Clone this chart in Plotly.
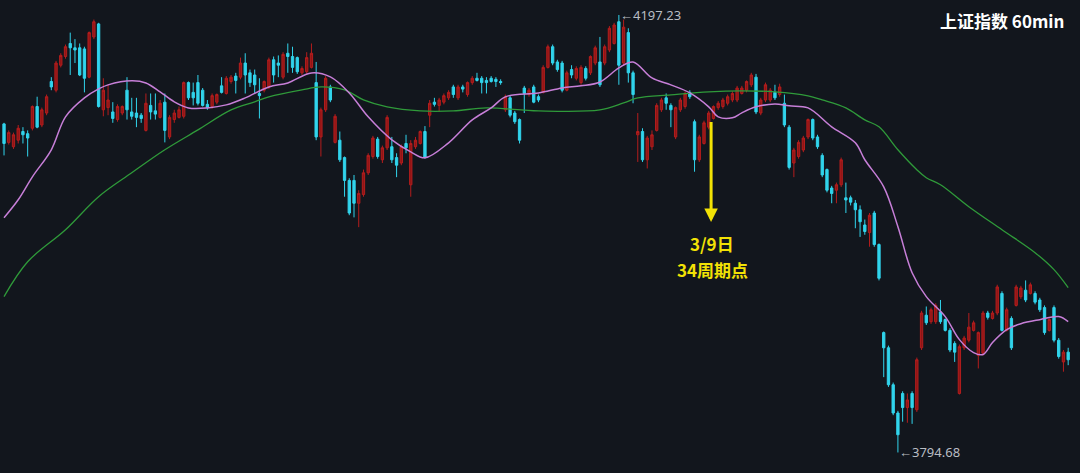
import plotly.graph_objects as go

open_ = [4097,4080,4076,4082,4090,4088,4093,4113,4096,4107,
         4136,4128,4151,4159,4171,4167,4167,4166,4140,4177,
         4189,4110,4112,4108,4101,4107,4128,4108,4107,4105,
         4091,4114,4109,4103,4117,4085,4101,4103,4104,4135,
         4126,4135,4128,4115,4113,4117,4132,4125,4136,4141,
         4140,4153,4144,4142,4125,4128,4131,4156,4153,4140,
         4162,4159,4158,4144,4145,4149,4135,4085,4110,4131,
         4080,4082,4066,4045,4045,4024,4032,4052,4067,4083,
         4064,4075,4076,4066,4061,4079,4041,4076,4079,4090,
         4105,4117,4114,4117,4121,4131,4121,4131,4124,4135,
         4139,4139,4137,4139,4138,4136,4110,4121,4107,4101,
         4130,4124,4131,4122,4126,4149,4168,4154,4153,4128,
         4147,4139,4135,4148,4144,4153,4154,4153,4165,4171,
         4191,4153,4181,4144,4087,4090,4064,4076,4091,4110,
         4121,4114,4085,4110,4113,4126,4099,4064,4079,4094,
         4102,4112,4113,4116,4119,4119,4125,4128,4133,4140,
         4107,4119,4119,4126,4124,4116,4094,4061,4067,4073,
         4085,4101,4085,4068,4055,4038,4036,4041,4029,4029,
         4024,4018,4004,3997,4015,3986,3905,3891,3857,3831,
         3849,3836,3849,3834,3891,3921,3915,3915,3924,3917,
         3907,3895,3849,3891,3898,3907,3884,3886,3923,3918,
         3923,3941,3907,3918,3930,3938,3944,3941,3941,3935,
         3928,3907,3928,3898,3878,3887]

high = [4098,4091,4089,4096,4094,4091,4114,4122,4112,4124,
        4140,4155,4162,4170,4181,4175,4171,4168,4182,4193,
        4190,4139,4133,4117,4115,4114,4140,4121,4121,4107,
        4125,4125,4125,4119,4125,4105,4110,4113,4136,4136,
        4135,4142,4130,4119,4125,4125,4140,4141,4142,4144,
        4158,4162,4147,4147,4139,4137,4158,4159,4160,4163,
        4171,4168,4159,4150,4163,4171,4154,4112,4141,4133,
        4106,4090,4067,4047,4050,4036,4055,4070,4086,4085,
        4077,4105,4085,4070,4078,4087,4082,4085,4091,4095,
        4119,4121,4121,4125,4128,4133,4133,4133,4136,4141,
        4144,4141,4140,4141,4140,4138,4124,4123,4109,4102,
        4132,4130,4133,4124,4151,4170,4170,4156,4155,4146,
        4151,4150,4151,4150,4160,4169,4177,4170,4187,4190,
        4197.23,4193,4185,4146,4107,4093,4086,4091,4116,4121,
        4125,4116,4113,4121,4127,4128,4101,4087,4100,4109,
        4114,4118,4121,4124,4127,4132,4132,4137,4144,4143,
        4121,4135,4130,4133,4134,4124,4096,4075,4082,4086,
        4102,4102,4087,4070,4056,4040,4043,4066,4043,4031,
        4027,4022,4009,4015,4017,3987,3906,3893,3859,3833,
        3851,3849,3851,3882,3925,3929,3928,3932,3935,3918,
        3909,3897,3894,3902,3923,3916,3906,3925,3925,3925,
        3949,3943,3928,3920,3949,3948,3953,3951,3943,3937,
        3930,3918,3930,3900,3889,3891]

low = [4068,4078,4074,4079,4079,4067,4091,4093,4094,4105,
       4128,4126,4149,4157,4142,4153,4141,4126,4139,4175,
       4112,4104,4105,4098,4099,4105,4101,4101,4094,4098,
       4090,4101,4101,4102,4080,4083,4098,4102,4102,4119,
       4114,4114,4113,4110,4111,4115,4125,4124,4134,4125,
       4138,4125,4131,4125,4102,4126,4129,4135,4140,4138,
       4144,4144,4143,4142,4143,4148,4082,4067,4108,4117,
       4079,4062,4030,4013,4011,4002,4030,4050,4065,4065,
       4061,4073,4061,4048,4059,4070,4030,4074,4078,4065,
       4094,4113,4108,4115,4119,4121,4119,4126,4122,4133,
       4136,4125,4125,4135,4131,4133,4108,4103,4097,4079,
       4107,4122,4116,4117,4125,4148,4151,4145,4126,4127,
       4139,4137,4133,4137,4142,4151,4131,4151,4163,4170,
       4133,4151,4135,4116,4062,4062,4056,4073,4090,4108,
       4110,4094,4083,4108,4111,4120,4053,4062,4078,4092,
       4101,4110,4111,4114,4117,4117,4124,4126,4131,4106,
       4105,4117,4117,4119,4122,4094,4055,4048,4065,4071,
       4083,4082,4074,4048,4034,4024,4024,4039,4015,4022,
       4001,3993,3995,3984,3984,3953,3864,3855,3829,3794.68,
       3823,3822,3821,3832,3889,3912,3913,3913,3913,3906,
       3887,3878,3848,3889,3896,3906,3872,3884,3917,3917,
       3921,3906,3906,3889,3929,3936,3933,3940,3931,3924,
       3903,3906,3896,3881,3869,3875]

close = [4079,4089,4087,4093,4087,4084,4113,4094,4110,4122,
         4131,4153,4160,4168,4167,4165,4142,4139,4181,4191,
         4113,4128,4119,4102,4113,4113,4110,4104,4103,4102,
         4116,4108,4106,4116,4091,4103,4107,4110,4135,4121,
         4121,4116,4114,4112,4123,4124,4126,4139,4140,4137,
         4153,4142,4135,4133,4123,4136,4156,4142,4151,4161,
         4159,4149,4145,4148,4158,4162,4085,4110,4139,4119,
         4104,4064,4045,4015,4024,4033,4052,4068,4084,4067,
         4075,4103,4064,4059,4076,4075,4079,4082,4090,4066,
         4116,4115,4119,4123,4126,4124,4131,4129,4135,4139,
         4137,4135,4135,4136,4136,4135,4122,4105,4099,4082,
         4125,4128,4117,4119,4149,4168,4153,4147,4128,4144,
         4142,4148,4149,4139,4159,4167,4133,4168,4185,4188,
         4151,4186,4144,4124,4090,4064,4084,4087,4114,4119,
         4116,4110,4112,4119,4125,4122,4064,4085,4098,4107,
         4113,4116,4119,4122,4125,4130,4130,4136,4142,4108,
         4119,4133,4128,4121,4131,4096,4057,4073,4080,4084,
         4101,4084,4076,4050,4036,4033,4041,4064,4027,4025,
         4018,4007,3998,4013,3986,3955,3891,3857,3831,3811,
         3836,3843,3836,3880,3923,3914,3926,3930,3915,3907,
         3889,3887,3892,3900,3910,3914,3905,3923,3919,3923,
         3947,3907,3926,3891,3947,3946,3935,3949,3933,3926,
         3905,3917,3898,3883,3887,3880]

ma_short_idx = [0,3,6,10,13,17,20,22,27,30,33,36,39,43,47,51,56,60,65,69,73,77,82,86,89,94,
                99,103,106,113,118,122,126,130,133,137,141,145,149,151,154,156,159,163,166,170,
                175,180,182,186,189,192,195,199,202,205,207,209,212,215,219,223,225]
ma_short = [4010.7,4027.2,4048.3,4073.2,4103.5,4120.9,4129.2,4132.9,4136.6,4134.7,4126.5,4117.3,
            4111.7,4111.7,4114.5,4120.9,4131.0,4134.7,4143.9,4140.2,4125.5,4103.5,4082.3,4071.3,
            4065.8,4079.6,4100.7,4111.7,4121.9,4125.5,4130.1,4132.0,4135.6,4148.5,4154.0,4139.3,
            4132.9,4125.5,4112.7,4103.5,4102.6,4107.2,4112.7,4115.4,4113.6,4111.7,4094.3,4079.6,
            4064.0,4039.1,4002.4,3960.1,3938.1,3919.7,3898.5,3886.6,3884.8,3895.8,3907.7,3913.2,
            3916.9,3919.7,3915.1]

ma_long_idx = [0,5,13,20,27,34,41,48,53,56,63,67,72,76,81,88,95,102,113,126,131,134,141,149,156,
               163,170,173,178,182,185,189,193,195,198,204,211,218,222,225]
ma_long = [3938.1,3970.2,3999.6,4030.0,4052.0,4073.2,4091.5,4109.9,4117.3,4121.9,4128.3,4131.0,
           4128.3,4119.1,4112.7,4109.0,4109.0,4111.7,4109.0,4109.9,4116.3,4120.9,4123.7,4126.5,
           4127.4,4126.5,4122.8,4119.1,4111.7,4100.7,4094.3,4073.2,4054.8,4047.4,4041.0,4020.8,
           3999.6,3978.5,3962.9,3946.3]

title_text = "上证指数 60min"
high_label = "4197.23"
low_label = "3794.68"
note_date = "3/9日"
note_cycle = "34周期点"
note_idx = 149.5
note_price = 4006.8

idx = list(range(len(close)))
BG = "#12161d"
RED_FILL, RED_LINE = "#8e1616", "#b51d1d"
CYAN = "#31d4ec"
YELLOW = "#f2e205"

fig = go.Figure()
fig.add_trace(go.Candlestick(
    x=idx, open=open_, high=high, low=low, close=close,
    increasing=dict(fillcolor=RED_FILL, line=dict(color=RED_LINE, width=1)),
    decreasing=dict(fillcolor=CYAN, line=dict(color=CYAN, width=1)),
    whiskerwidth=0, hoverinfo="skip", showlegend=False))
fig.add_trace(go.Scatter(x=ma_long_idx, y=ma_long, mode="lines",
                         line=dict(color="#2f9a3a", width=1.3, shape="spline", smoothing=1.0),
                         hoverinfo="skip", showlegend=False))
fig.add_trace(go.Scatter(x=ma_short_idx, y=ma_short, mode="lines",
                         line=dict(color="#c77fd8", width=1.5, shape="spline", smoothing=1.0),
                         hoverinfo="skip", showlegend=False))

imax = high.index(max(high))
imin = low.index(min(low))
ann = []
ann.append(dict(x=imax, y=max(high), xref="x", yref="y", text="←" + high_label,
                showarrow=False, xanchor="left", yanchor="middle", xshift=-1,
                font=dict(family="Noto Sans", size=13, color="#b9bdc3")))
ann.append(dict(x=imin, y=min(low), xref="x", yref="y", text="←" + low_label,
                showarrow=False, xanchor="left", yanchor="middle", xshift=-1,
                font=dict(family="Noto Sans", size=13, color="#b9bdc3")))
# yellow arrow pointing down to the 3/9 cycle point
ann.append(dict(x=note_idx, y=note_price, xref="x", yref="y", text=" ",
                showarrow=True, arrowhead=2, arrowsize=0.9, arrowwidth=3,
                arrowcolor=YELLOW, ax=0, ay=-102, axref="pixel", ayref="pixel",
                font=dict(size=1)))
ann.append(dict(x=712 / 1080, y=1 - 244 / 473, xref="paper", yref="paper", text="<b>" + note_date + "</b>",
                showarrow=False, xanchor="center", yanchor="middle",
                font=dict(family="Noto Sans CJK SC", size=17, color=YELLOW)))
ann.append(dict(x=712 / 1080, y=1 - 269 / 473, xref="paper", yref="paper", text="<b>" + note_cycle + "</b>",
                showarrow=False, xanchor="center", yanchor="middle",
                font=dict(family="Noto Sans CJK SC", size=17, color=YELLOW)))
ann.append(dict(x=1066 / 1080, y=1 - 20 / 473, xref="paper", yref="paper", text="<b>" + title_text + "</b>",
                showarrow=False, xanchor="right", yanchor="middle",
                font=dict(family="Noto Sans CJK SC", size=17, color="#ffffff")))

fig.update_layout(
    width=1080, height=473,
    margin=dict(l=0, r=0, t=0, b=0),
    paper_bgcolor=BG, plot_bgcolor=BG,
    annotations=ann,
    xaxis=dict(range=[-0.85, 227.5], visible=False, rangeslider=dict(visible=False), fixedrange=True),
    yaxis=dict(range=[3775.8, 4211.0], visible=False, fixedrange=True),
    showlegend=False,
)
fig.write_html("out.html", config={"displayModeBar": False},
               post_script="document.body.style.margin='0';document.body.style.background='" + BG + "';")
